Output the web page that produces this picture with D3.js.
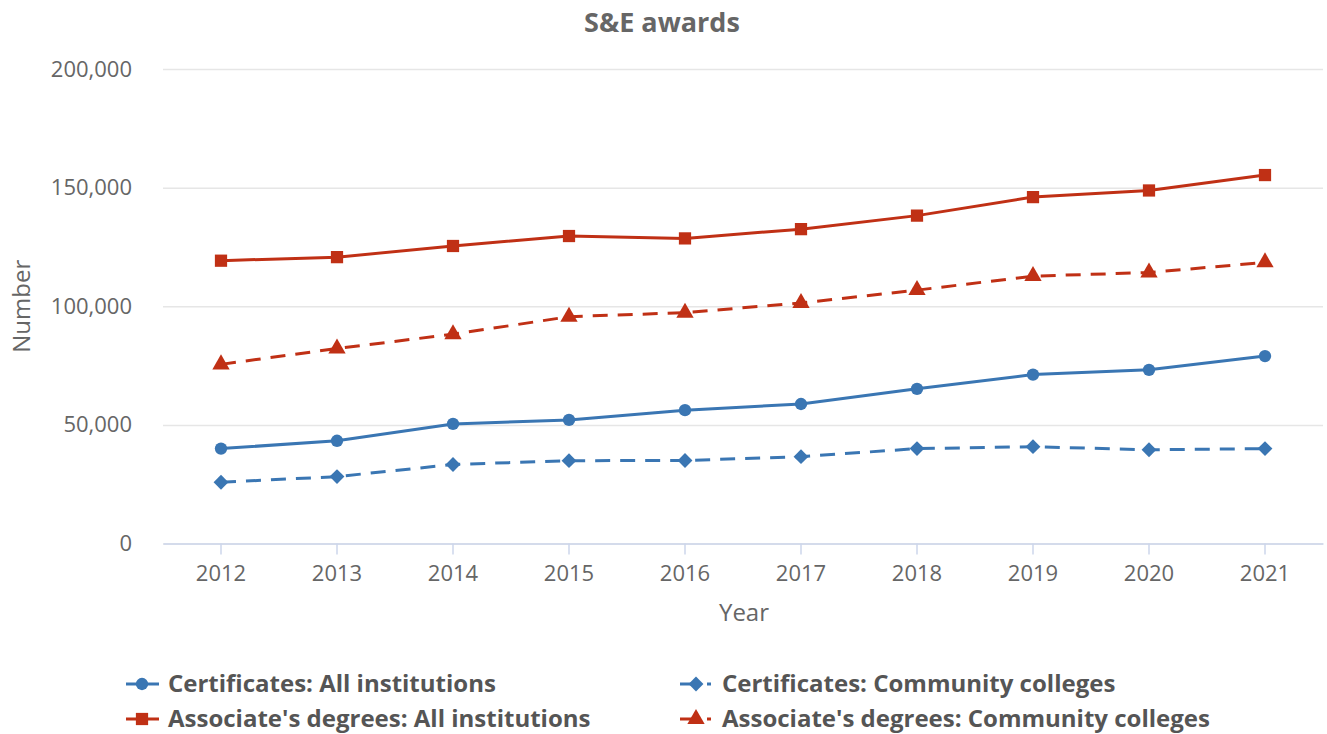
<!DOCTYPE html>
<html>
  <head>
    <meta charset="utf-8">
    <title>S&amp;E awards</title>
    <style>
      body { margin: 0; background: #fff; }
      text { font-family: "Open Sans", sans-serif; }
    </style>
  </head>
  <body>
    <div id="container"></div>
    <script src="https://d3js.org/d3.v7.min.js"></script>
    <script>

      // DATA
      var years = ["2012", "2013", "2014", "2015", "2016", "2017", "2018", "2019", "2020", "2021"];
      var certAll = [40000, 43300, 50400, 52100, 56200, 58800, 65200, 71200, 73200, 79000];
      var certCC = [25800, 28200, 33300, 34900, 35000, 36600, 40000, 40800, 39500, 40000];
      var assocAll = [119200, 120700, 125400, 129600, 128600, 132500, 138200, 146000, 148800, 155300];
      var assocCC = [75500, 82200, 88200, 95600, 97300, 101400, 106800, 112700, 114200, 118500];
      var yTicks = [0, 50000, 100000, 150000, 200000];

      var diamond = {
        draw: function (ctx, size) {
          var r = Math.sqrt(size / 2);
          ctx.moveTo(0, -r); ctx.lineTo(r, 0); ctx.lineTo(0, r); ctx.lineTo(-r, 0); ctx.closePath();
        }
      };

      var series = [
        { name: "Certificates: All institutions", values: certAll, color: "#3a76b3", dash: null, symbol: d3.symbolCircle, size: 120 },
        { name: "Certificates: Community colleges", values: certCC, color: "#3a76b3", dash: "15,10", symbol: diamond, size: 110 },
        { name: "Associate's degrees: All institutions", values: assocAll, color: "#c03015", dash: null, symbol: d3.symbolSquare, size: 150 },
        { name: "Associate's degrees: Community colleges", values: assocCC, color: "#c03015", dash: "15,10", symbol: d3.symbolTriangle, size: 130 }
      ];

      // DIMENSIONS
      var W = 1327, H = 734;
      var margin = { top: 69, right: 4, bottom: 190.5, left: 163 },
        width = W - margin.left - margin.right,
        height = H - margin.top - margin.bottom;

      var svg = d3.select("#container")
        .append("svg")
        .attr("width", W)
        .attr("height", H);

      // TITLE
      svg.append("text")
        .attr("x", 662)
        .attr("y", 32)
        .attr("text-anchor", "middle")
        .attr("font-size", 27)
        .attr("font-weight", "bold")
        .attr("fill", "#666666")
        .text("S&E awards");

      var g = svg.append("g")
        .attr("transform", "translate(" + margin.left + "," + margin.top + ")");

      // SCALES
      var x = d3.scaleBand()
        .domain(years)
        .range([0, width]);

      var y = d3.scaleLinear()
        .domain([0, 200000])
        .range([height, 0]);

      // GRIDLINES + Y-AXIS
      var yAxis = g.append("g")
        .call(d3.axisLeft(y).tickValues(yTicks).tickSize(-width).tickFormat(d3.format(",")));
      yAxis.select(".domain").remove();
      yAxis.selectAll(".tick line").attr("stroke", "#e6e6e6").attr("stroke-width", 1.5);
      yAxis.selectAll(".tick text")
        .attr("x", -31)
        .attr("font-size", 22)
        .attr("fill", "#666666")
        .style("font-family", "Open Sans");

      // X-AXIS
      var xAxis = g.append("g")
        .attr("transform", "translate(0," + height + ")")
        .call(d3.axisBottom(x).tickSizeOuter(0).tickSizeInner(11).tickPadding(11));
      xAxis.select(".domain").attr("stroke", "#ccd6eb").attr("stroke-width", 1.5);
      xAxis.selectAll(".tick line").attr("stroke", "#ccd6eb").attr("stroke-width", 1.5);
      xAxis.selectAll(".tick text")
        .attr("font-size", 22)
        .attr("fill", "#666666")
        .style("font-family", "Open Sans");

      // AXIS TITLES
      svg.append("text")
        .attr("x", margin.left + width / 2 + 1)
        .attr("y", 621)
        .attr("text-anchor", "middle")
        .attr("font-size", 24)
        .attr("fill", "#666666")
        .text("Year");

      svg.append("text")
        .attr("transform", "translate(30," + (margin.top + height / 2) + ") rotate(-90)")
        .attr("text-anchor", "middle")
        .attr("font-size", 24)
        .attr("fill", "#666666")
        .text("Number");

      // LINES + MARKERS
      var cx = d => x(d) + x.bandwidth() / 2;
      var line = d3.line()
        .x((d, i) => cx(years[i]))
        .y(d => y(d));

      series.forEach(function (s) {
        g.append("path")
          .datum(s.values)
          .attr("fill", "none")
          .attr("stroke", s.color)
          .attr("stroke-width", 3)
          .attr("stroke-dasharray", s.dash)
          .attr("d", line);

        g.selectAll(null)
          .data(s.values)
          .enter()
          .append("path")
          .attr("d", d3.symbol().type(s.symbol).size(s.size))
          .attr("transform", (d, i) => "translate(" + cx(years[i]) + "," + y(d) + ")")
          .attr("fill", s.color);
      });

      // LEGEND
      var legendPos = [
        { x: 126, y: 684 },
        { x: 680, y: 684 },
        { x: 126, y: 719 },
        { x: 680, y: 719 }
      ];

      var legend = svg.selectAll(".legend")
        .data(series)
        .enter()
        .append("g")
        .attr("class", "legend")
        .attr("transform", (d, i) => "translate(" + legendPos[i].x + "," + legendPos[i].y + ")");

      legend.append("line")
        .attr("x1", 0)
        .attr("x2", 33)
        .attr("y1", 0)
        .attr("y2", 0)
        .attr("stroke", d => d.color)
        .attr("stroke-width", 3)
        .attr("stroke-dasharray", d => d.dash ? "14,13,4,20" : null);

      legend.append("path")
        .attr("d", d => d3.symbol().type(d.symbol).size(d.size)())
        .attr("transform", "translate(16,0)")
        .attr("fill", d => d.color);

      legend.append("text")
        .attr("x", 42)
        .attr("y", 0)
        .attr("dy", "0.35em")
        .attr("font-size", 24)
        .attr("font-weight", "bold")
        .attr("fill", "#555555")
        .text(d => d.name);

    </script>
  </body>
</html>
